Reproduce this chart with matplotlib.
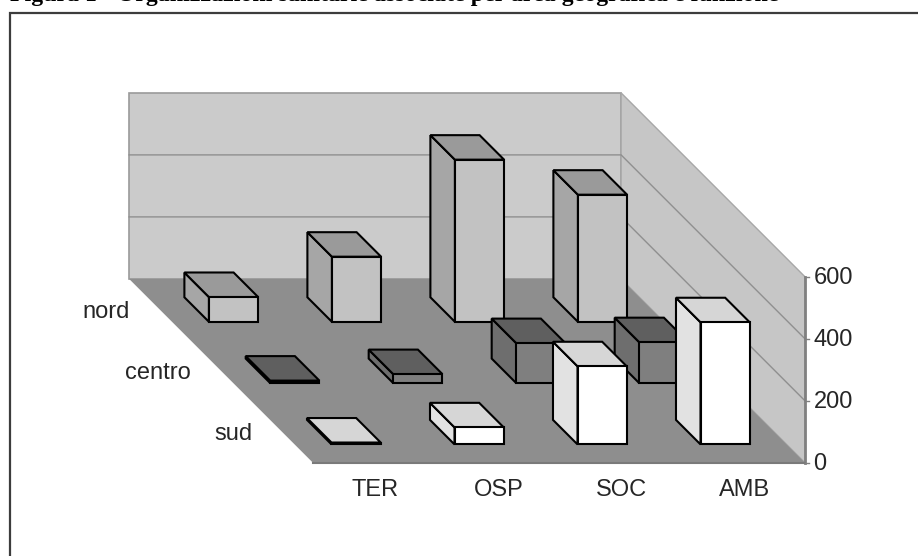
import matplotlib
matplotlib.use("Agg")
import matplotlib.pyplot as plt
from matplotlib.patches import Polygon

# ---- data -------------------------------------------------------------
title = "Figura 1 - Organizzazioni sanitarie associate per area geografica e funzione"
categories = ["TER", "OSP", "SOC", "AMB"]
rows = ["sud", "centro", "nord"]          # front to back
sud = [6, 55, 252, 394]
centro = [8, 29, 129, 132]
nord = [80, 210, 523, 410]
z_ticks = [0, 200, 400, 600]

# ---- styles -----------------------------------------------------------
series = [sud, centro, nord]
face_colors = [  # front, left, top
    ("#ffffff", "#e2e2e2", "#d6d6d6"),
    ("#7f7f7f", "#6e6e6e", "#5f5f5f"),
    ("#c2c2c2", "#a6a6a6", "#9a9a9a"),
]
plt.rcParams["font.family"] = ["Liberation Sans", "DejaVu Sans"]
LABEL_SIZE = 17
TEXT_COLOR = "#262626"

W, H = 918, 556
fig = plt.figure(figsize=(W / 100, H / 100), dpi=100, facecolor="white")
ax = fig.add_axes([0, 0, 1, 1])
ax.set_xlim(0, W)
ax.set_ylim(H, 0)
ax.axis("off")

# oblique projection: category units, row units, value units -> pixels
X0, Y0 = 313.0, 462.8
CAT_W = 123.0
ROW_D = 61.3
Z_SCALE = 186.0 / 600.0


def proj(c, r, z=0.0):
    return (X0 + c * CAT_W - r * ROW_D, Y0 - r * ROW_D - z * Z_SCALE)


n_c, n_r, z_max = len(categories), len(rows), z_ticks[-1]


def poly(pts, fc, ec="none", lw=0.0, zorder=1):
    ax.add_patch(Polygon(pts, closed=True, facecolor=fc, edgecolor=ec,
                         linewidth=lw, joinstyle="miter", zorder=zorder))


# walls and floor
poly([proj(0, n_r), proj(n_c, n_r), proj(n_c, n_r, z_max), proj(0, n_r, z_max)],
     "#cbcbcb", "#9a9a9a", 1.2)
poly([proj(n_c, 0), proj(n_c, n_r), proj(n_c, n_r, z_max), proj(n_c, 0, z_max)],
     "#c6c6c6", "#a8a8a8", 1.0)
poly([proj(0, 0), proj(n_c, 0), proj(n_c, n_r), proj(0, n_r)], "#8e8e8e")

# gridlines
for t in z_ticks[1:-1]:
    a, b, c = proj(0, n_r, t), proj(n_c, n_r, t), proj(n_c, 0, t)
    ax.plot([a[0], b[0], c[0]], [a[1], b[1], c[1]], color="#8f8f8f", lw=1.0,
            solid_joinstyle="miter", zorder=1.5)

# value axis + ticks
a, b = proj(n_c, 0), proj(n_c, 0, z_max)
ax.plot([a[0], b[0]], [a[1], b[1]], color="#808080", lw=2.0, zorder=2)
a, b = proj(0, 0), proj(n_c, 0)
ax.plot([a[0], b[0]], [a[1], b[1]], color="#7a7a7a", lw=1.5, zorder=2)
for t in z_ticks:
    x, y = proj(n_c, 0, t)
    ax.plot([x, x + 4], [y, y], color="#808080", lw=1.0, zorder=2)
    ax.text(x + 8.5, y + 1, str(t), ha="left", va="center", fontsize=LABEL_SIZE, color=TEXT_COLOR)

# bars, back row first
GAP = 0.3
BAR = 0.4
for r_i in range(n_r - 1, -1, -1):
    front, left, top = face_colors[r_i]
    for c_i in range(n_c - 1, -1, -1):
        v = series[r_i][c_i]
        c0, c1 = c_i + GAP, c_i + GAP + BAR
        r0, r1 = r_i + GAP, r_i + GAP + BAR
        style = dict(ec="black", lw=1.5, zorder=3 + (n_r - r_i))
        poly([proj(c0, r0), proj(c0, r1), proj(c0, r1, v), proj(c0, r0, v)], left, **style)
        poly([proj(c0, r0, v), proj(c0, r1, v), proj(c1, r1, v), proj(c1, r0, v)], top, **style)
        poly([proj(c0, r0), proj(c1, r0), proj(c1, r0, v), proj(c0, r0, v)], front, **style)

# category labels
for i, name in enumerate(categories):
    x, y = proj(i + 0.5, 0)
    ax.text(x + 1, y + 27, name, ha="center", va="center", fontsize=LABEL_SIZE, color=TEXT_COLOR)

# row labels
for i, name in enumerate(rows):
    x, y = proj(0, i + 0.5)
    ax.text(x - 30, y + 2, name, ha="right", va="center", fontsize=LABEL_SIZE, color=TEXT_COLOR)

# outer frame (open at right and bottom, as cropped)
ax.plot([9.5, 9.5, W], [H, 13, 13], color="#3c3c3c", lw=1.6, zorder=1,
        solid_joinstyle="miter")

# title, cropped at the top edge of the page
ax.text(10, 0.5, title, ha="left", va="baseline", fontsize=17.2,
        fontweight="bold", family=["Liberation Serif", "DejaVu Serif"], color="black")

fig.savefig("out.png", dpi=100)
